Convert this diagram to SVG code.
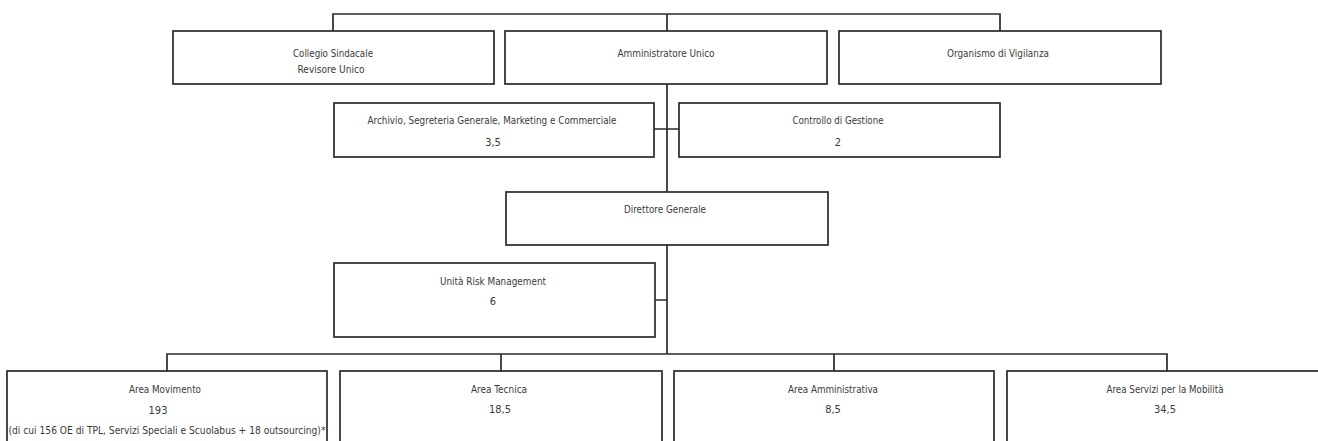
<svg xmlns="http://www.w3.org/2000/svg" width="1318" height="441" viewBox="0 0 1318 441">
<style>
.box{fill:#fff;stroke:#2a2a2a;stroke-width:1.7}
.con{fill:none;stroke:#2a2a2a;stroke-width:1.7}
text{font-family:"DejaVu Sans Condensed","DejaVu Sans",sans-serif;font-size:11px;fill:#3a3a3a;text-anchor:middle}
</style>
<rect width="1318" height="441" fill="#fff"/>
<g id="connectors">
<path class="con" d="M333,31 V14 H1000 V31 M667,14 V31"/>
<path class="con" d="M667,84 V192 M654,129 H679"/>
<path class="con" d="M667,245 V354 M655,300 H667"/>
<path class="con" d="M167,371 V354 H1167 V371 M501,354 V371 M834,354 V371"/>
</g>
<g id="collegio">
<rect class="box" x="173" y="31" width="321" height="53"/>
<text x="333" y="57" textLength="80" lengthAdjust="spacingAndGlyphs">Collegio Sindacale</text>
<text x="331" y="73" textLength="67" lengthAdjust="spacingAndGlyphs">Revisore Unico</text>
</g>
<g id="amministratore">
<rect class="box" x="505" y="31" width="322" height="53"/>
<text x="666" y="57" textLength="97" lengthAdjust="spacingAndGlyphs">Amministratore Unico</text>
</g>
<g id="organismo">
<rect class="box" x="839" y="31" width="322" height="53"/>
<text x="998" y="57" textLength="102" lengthAdjust="spacingAndGlyphs">Organismo di Vigilanza</text>
</g>
<g id="archivio">
<rect class="box" x="334" y="103" width="320" height="54"/>
<text x="492" y="124" textLength="249" lengthAdjust="spacingAndGlyphs">Archivio, Segreteria Generale, Marketing e Commerciale</text>
<text x="493" y="146">3,5</text>
</g>
<g id="controllo">
<rect class="box" x="679" y="103" width="321" height="54"/>
<text x="838" y="124" textLength="91" lengthAdjust="spacingAndGlyphs">Controllo di Gestione</text>
<text x="838" y="146">2</text>
</g>
<g id="direttore">
<rect class="box" x="506" y="192" width="322" height="53"/>
<text x="665" y="213" textLength="82" lengthAdjust="spacingAndGlyphs">Direttore Generale</text>
</g>
<g id="risk">
<rect class="box" x="334" y="263" width="321" height="74"/>
<text x="493" y="285" textLength="106" lengthAdjust="spacingAndGlyphs">Unità Risk Management</text>
<text x="493" y="305">6</text>
</g>
<g id="movimento">
<rect class="box" x="7" y="371" width="320" height="90"/>
<text x="165" y="393" textLength="72" lengthAdjust="spacingAndGlyphs">Area Movimento</text>
<text x="158" y="414">193</text>
<text x="167" y="434" textLength="317" lengthAdjust="spacingAndGlyphs">(di cui 156 OE di TPL, Servizi Speciali e Scuolabus + 18 outsourcing)*</text>
</g>
<g id="tecnica">
<rect class="box" x="340" y="371" width="322" height="90"/>
<text x="499" y="393" textLength="56" lengthAdjust="spacingAndGlyphs">Area Tecnica</text>
<text x="500" y="413">18,5</text>
</g>
<g id="amministrativa">
<rect class="box" x="674" y="371" width="320" height="90"/>
<text x="833" y="393" textLength="90" lengthAdjust="spacingAndGlyphs">Area Amministrativa</text>
<text x="833" y="413">8,5</text>
</g>
<g id="servizi">
<rect class="box" x="1007" y="371" width="320" height="90"/>
<text x="1165" y="393" textLength="117" lengthAdjust="spacingAndGlyphs">Area Servizi per la Mobilità</text>
<text x="1165" y="413">34,5</text>
</g>
</svg>
